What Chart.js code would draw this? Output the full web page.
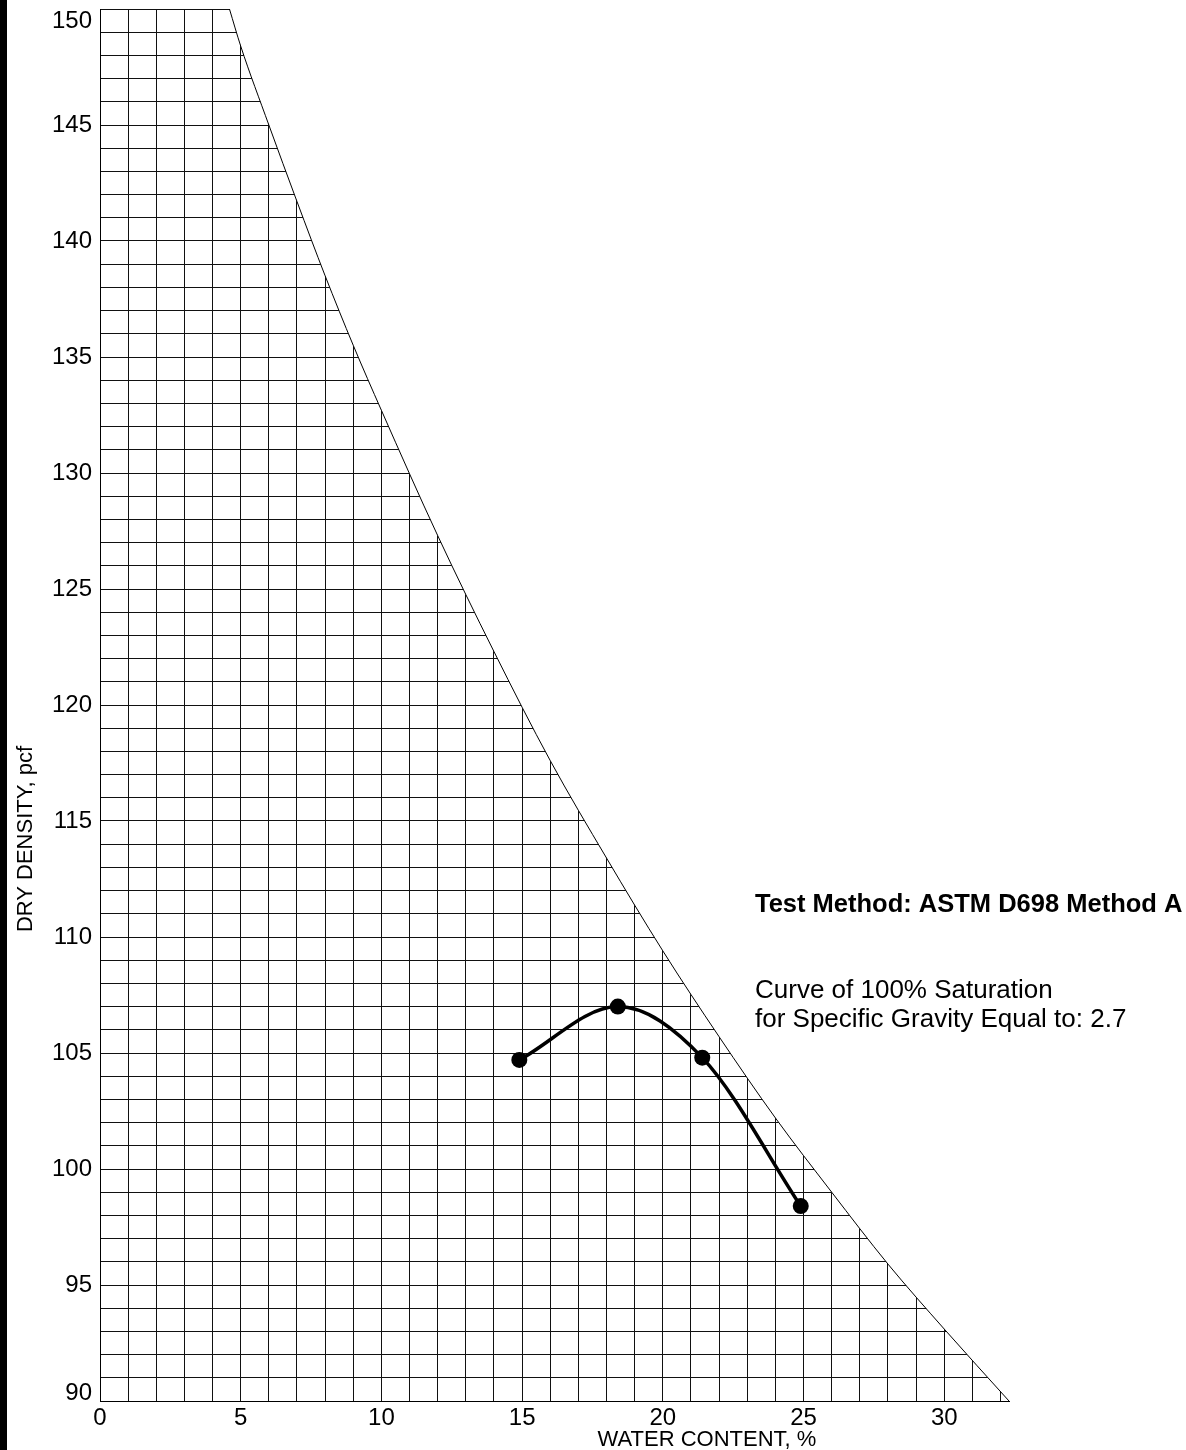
<!DOCTYPE html>
<html>
<head>
<meta charset="utf-8">
<script src="https://cdn.jsdelivr.net/npm/chart.js@4.4.1/dist/chart.umd.min.js"></script>
<style>
  html, body { margin: 0; padding: 0; background: #fff; overflow: hidden; }
  #wrap { position: relative; width: 1186px; height: 1450px; }
  #proctorChart { position: absolute; left: 0; top: 0; }
  #bar { position: absolute; left: 0; top: 0; width: 7px; height: 1450px; background: #000; }
</style>
</head>
<body>
<div id="wrap">
  <canvas id="proctorChart" width="1186" height="1450"></canvas>
  <div id="bar"></div>
</div>
<script>
const FONT = "'Liberation Sans', Arial, sans-serif";

// compaction test points (water content %, dry density pcf)
const waterContent = [14.9, 18.4, 21.4, 24.9];
const dryDensity = [104.7, 107.0, 104.8, 98.4];

// 100% saturation curve (Gs = 2.7)
const zavWater = [4.6, 5, 6, 7, 8, 9, 10, 12, 14, 16, 18, 20, 22, 24, 26, 28, 30, 32.3];
const zavDensity = [150.0, 148.4, 145.0, 141.7, 138.5, 135.5, 132.7, 127.3, 122.3, 117.6, 113.4, 109.4, 105.7, 102.2, 99.0, 95.9, 93.1, 90.0];

// labelled ticks
const xTickLabels = [0, 5, 10, 15, 20, 25, 30];
const yTickLabels = [90, 95, 100, 105, 110, 115, 120, 125, 130, 135, 140, 145, 150];

const toPoints = (xs, ys) => xs.map((x, i) => ({x: x, y: ys[i]}));

// axis titles and the notes on the right
const notesPlugin = {
    id: 'notes',
    afterDraw(chart) {
        const ctx = chart.ctx;
        ctx.save();
        ctx.fillStyle = '#000';
        ctx.textBaseline = 'alphabetic';
        ctx.textAlign = 'left';
        ctx.font = 'bold 25.5px ' + FONT;
        ctx.fillText('Test Method: ASTM D698 Method A', 755, 912);
        ctx.font = '26px ' + FONT;
        ctx.fillText('Curve of 100% Saturation', 755, 998);
        ctx.fillText('for Specific Gravity Equal to: 2.7', 755, 1027);

        ctx.font = '22px ' + FONT;
        ctx.textAlign = 'center';
        ctx.fillText('WATER CONTENT, %', 707, 1446);
        ctx.translate(32, 839);
        ctx.rotate(-Math.PI / 2);
        ctx.fillText('DRY DENSITY, pcf', 0, 0);
        ctx.restore();
    }
};

const config = {
    type: 'line',
    data: {
        datasets: [{
            label: 'Compaction',
            data: toPoints(waterContent, dryDensity),
            borderColor: '#000',
            backgroundColor: '#000',
            borderWidth: 3.5,
            pointRadius: 8,
            pointBorderWidth: 0,
            cubicInterpolationMode: 'monotone',
            fill: false,
            order: 0
        }, {
            label: 'Zero air voids',
            data: toPoints(zavWater, zavDensity),
            borderColor: '#000',
            borderWidth: 1,
            backgroundColor: '#fff',
            pointRadius: 0,
            cubicInterpolationMode: 'monotone',
            // white fill hides the grid above the saturation curve
            fill: 'end',
            order: 1
        }]
    },
    options: {
        responsive: false,
        animation: false,
        layout: {
            padding: {top: 9, right: 177, bottom: 0, left: 0}
        },
        scales: {
            x: {
                type: 'linear',
                min: 0,
                max: 32.3,
                afterFit(scale) {
                    scale.height = 49;
                    scale.paddingLeft = 0;
                    scale.paddingRight = 0;
                },
                grid: { color: '#111', lineWidth: 1, drawTicks: false },
                border: { color: '#000', width: 1 },
                ticks: {
                    stepSize: 1,
                    includeBounds: false,
                    autoSkip: false,
                    maxRotation: 0,
                    padding: 3,
                    color: '#000',
                    font: { family: FONT, size: 24 },
                    callback: value => xTickLabels.includes(value) ? String(value) : ''
                }
            },
            y: {
                type: 'linear',
                min: 90,
                max: 150,
                afterFit(scale) {
                    scale.width = 100;
                    scale.paddingTop = 0;
                    scale.paddingBottom = 0;
                },
                grid: { color: '#111', lineWidth: 1, drawTicks: false },
                border: { color: '#000', width: 1 },
                ticks: {
                    stepSize: 1,
                    autoSkip: false,
                    padding: 8,
                    color: '#000',
                    font: ctx => ({
                        family: FONT,
                        size: 24,
                        lineHeight: ctx.tick && ctx.tick.value === 90 ? '16px' : '25px'
                    }),
                    // end labels sit inside the plot, like the original
                    callback: value => {
                        if (value === 150) return ['', '150'];
                        if (value === 90) return ['90', ''];
                        return yTickLabels.includes(value) ? String(value) : '';
                    }
                }
            }
        },
        plugins: {
            legend: { display: false },
            tooltip: { enabled: false }
        }
    },
    plugins: [notesPlugin]
};

const chart = new Chart(document.getElementById('proctorChart'), config);
</script>
</body>
</html>
